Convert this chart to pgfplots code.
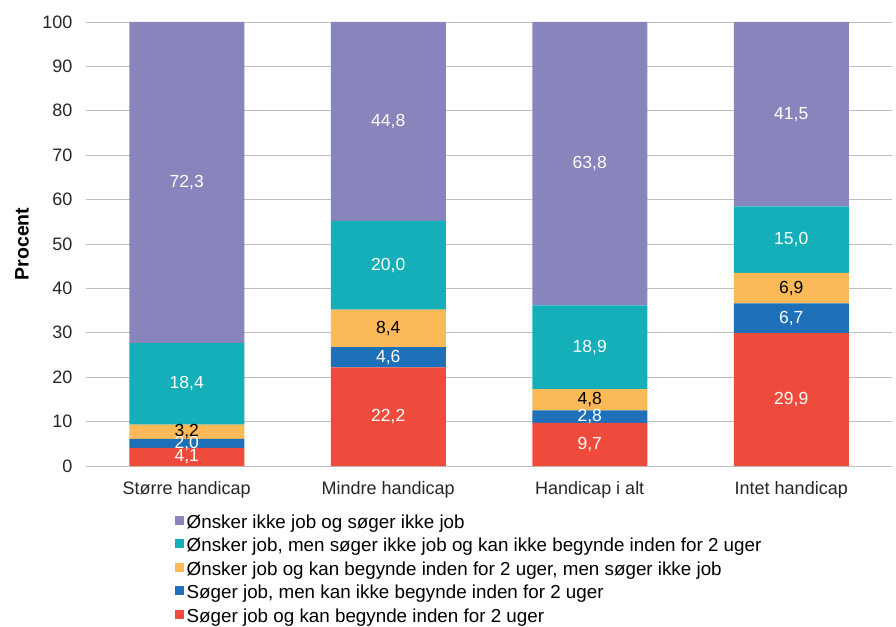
\documentclass[border=0pt]{standalone}
\usepackage{pgfplots}
\pgfplotsset{compat=1.18}
\usepackage{fontspec}
\setmainfont{Liberation Sans}
\definecolor{cpur}{HTML}{8884BC}
\definecolor{cteal}{HTML}{14AFB9}
\definecolor{corg}{HTML}{FBB957}
\definecolor{cblu}{HTML}{1E70B8}
\definecolor{cred}{HTML}{EF4B3C}
\begin{document}
\begin{tikzpicture}
\useasboundingbox (0pt,0pt) rectangle (896pt,626pt);
\begin{axis}[
  at={(86pt,160pt)}, anchor=south west,
  scale only axis, width=806pt, height=444pt,
  ybar stacked, bar width=115pt,
  xmin=-0.5, xmax=3.5, ymin=0, ymax=100,
  ytick={0,10,...,100},
  xtick={0,1,2,3},
  xticklabels={Større handicap, Mindre handicap, Handicap i alt, Intet handicap},
  ymajorgrids, grid style={draw=black!25, line width=0.8pt},
  axis line style={draw=none},
  major tick length=0pt,
  /pgf/number format/assume math mode=true,
  tick label style={font=\fontsize{18}{21}\selectfont, text=black!85},
  yticklabel style={inner sep=0pt, xshift=-13.5pt},
  xticklabel style={inner sep=0pt, yshift=-15pt},
  ylabel={Procent},
  ylabel style={at={(axis description cs:-0.0794,0.5)}, anchor=center, font=\bfseries\fontsize{19.5}{22}\selectfont},
  reverse legend,
  legend cell align=left,
  legend image code/.code={\fill[#1] (0pt,-1pt) rectangle (9pt,8pt);},
  legend style={at={(axis description cs:0.1104,-0.110)}, anchor=north west, draw=none,
    font=\fontsize{18.8}{22}\selectfont, row sep=6.5pt, inner sep=0pt,
    nodes={inner ysep=0pt, inner xsep=2.5pt, text height=13pt, text depth=4pt}},
]
\addplot[fill=cred, draw=none] coordinates {(0,4.1) (1,22.2) (2,9.7) (3,29.9)};
\addlegendentry{Søger job og kan begynde inden for 2 uger}
\addplot[fill=cblu, draw=none] coordinates {(0,2.0) (1,4.6) (2,2.8) (3,6.7)};
\addlegendentry{Søger job, men kan ikke begynde inden for 2 uger}
\addplot[fill=corg, draw=none] coordinates {(0,3.2) (1,8.4) (2,4.8) (3,6.9)};
\addlegendentry{Ønsker job og kan begynde inden for 2 uger, men søger ikke job}
\addplot[fill=cteal, draw=none] coordinates {(0,18.4) (1,20.0) (2,18.9) (3,15.0)};
\addlegendentry{Ønsker job, men søger ikke job og kan ikke begynde inden for 2 uger}
\addplot[fill=cpur, draw=none] coordinates {(0,72.3) (1,44.8) (2,63.8) (3,41.5)};
\addlegendentry{Ønsker ikke job og søger ikke job}
\end{axis}
\begin{axis}[
  at={(86pt,160pt)}, anchor=south west,
  scale only axis, width=806pt, height=444pt,
  xmin=-0.5, xmax=3.5, ymin=0, ymax=100,
  hide axis,
  nodes near coords={\pgfmathprintnumber[fixed,fixed zerofill,precision=1,use comma,assume math mode=true]{\pgfplotspointmeta}},
  point meta=explicit,
  every node near coord/.append style={anchor=center, inner sep=0pt, font=\fontsize{17.5}{20}\selectfont},
]
\addplot[draw=none, mark=none, nodes near coords style={text=white}] coordinates {
  (0,2.05) [4.1] (1,11.1) [22.2] (2,4.85) [9.7] (3,14.95) [29.9]};
\addplot[draw=none, mark=none, nodes near coords style={text=white}] coordinates {
  (0,5.1) [2.0] (1,24.5) [4.6] (2,11.1) [2.8] (3,33.25) [6.7]};
\addplot[draw=none, mark=none, nodes near coords style={text=black}] coordinates {
  (0,7.7) [3.2] (1,31.0) [8.4] (2,14.9) [4.8] (3,40.05) [6.9]};
\addplot[draw=none, mark=none, nodes near coords style={text=white}] coordinates {
  (0,18.5) [18.4] (1,45.2) [20.0] (2,26.75) [18.9] (3,51.0) [15.0]};
\addplot[draw=none, mark=none, nodes near coords style={text=white}] coordinates {
  (0,63.85) [72.3] (1,77.6) [44.8] (2,68.1) [63.8] (3,79.25) [41.5]};
\end{axis}
\end{tikzpicture}
\end{document}
